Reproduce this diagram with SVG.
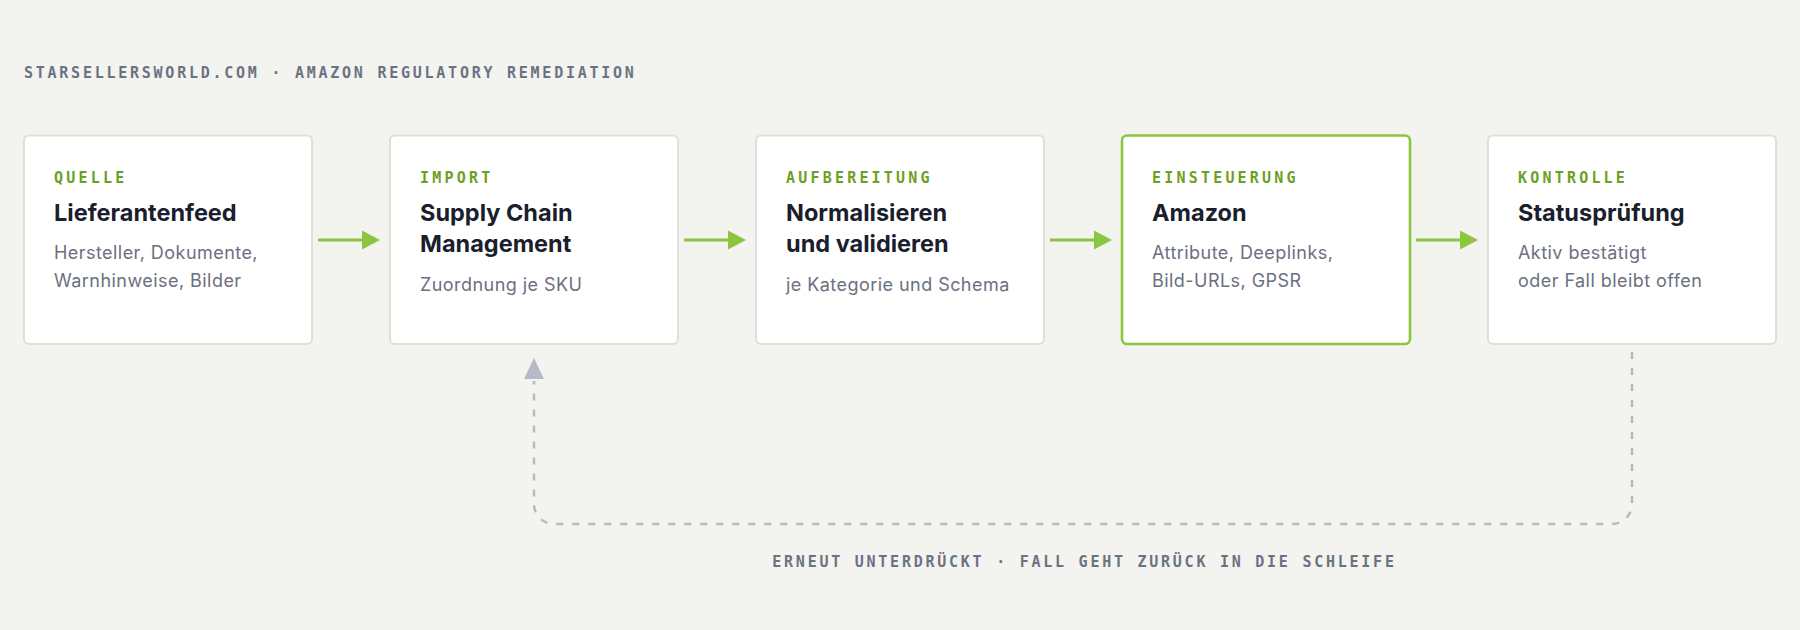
<svg xmlns="http://www.w3.org/2000/svg" width="1800" height="630" viewBox="0 0 1800 630">
  <style>
    .bg { fill: #f3f3ef; }
    .box { fill: #ffffff; stroke: #dfe0d9; stroke-width: 2; }
    .box.hl { stroke: #8cc63f; stroke-width: 2.6; }
    .kicker { font-family: "DejaVu Sans Mono", "Liberation Mono", monospace; font-weight: 700; font-size: 15px; letter-spacing: 3.2px; fill: #6d9f24; }
    .title { font-family: Inter, "Liberation Sans", sans-serif; font-weight: 700; font-size: 23.5px; letter-spacing: 0px; fill: #1b1e2d; }
    .sub { font-family: Inter, "Liberation Sans", sans-serif; font-weight: 400; font-size: 18px; letter-spacing: 0.45px; fill: #6b7080; }
    .caption { font-family: "DejaVu Sans Mono", "Liberation Mono", monospace; font-weight: 700; font-size: 15px; letter-spacing: 2.75px; fill: #6b7282; }
    .flow { stroke: #8cc63f; stroke-width: 3; fill: none; }
    .flowhead { fill: #8cc63f; }
    .loop { stroke: #b6bac6; stroke-width: 2.5; fill: none; stroke-dasharray: 7 9; }
    .loophead { fill: #b6bac6; }
  </style>
  <rect class="bg" x="0" y="0" width="1800" height="630"/>

  <text class="caption" x="24" y="78">STARSELLERSWORLD.COM · AMAZON REGULATORY REMEDIATION</text>

  <g id="connectors">
    <line class="flow" x1="318" y1="240" x2="364" y2="240"/>
    <polygon class="flowhead" points="380,240 362,230.5 362,249.5"/>
    <line class="flow" x1="684" y1="240" x2="730" y2="240"/>
    <polygon class="flowhead" points="746,240 728,230.5 728,249.5"/>
    <line class="flow" x1="1050" y1="240" x2="1096" y2="240"/>
    <polygon class="flowhead" points="1112,240 1094,230.5 1094,249.5"/>
    <line class="flow" x1="1416" y1="240" x2="1462" y2="240"/>
    <polygon class="flowhead" points="1478,240 1460,230.5 1460,249.5"/>
    <path class="loop" d="M1632 352 V504 A20 20 0 0 1 1612 524 H554 A20 20 0 0 1 534 504 V381"/>
    <polygon class="loophead" points="534,358 524,379 544,379"/>
    <text class="caption" x="1084.5" y="567" text-anchor="middle">ERNEUT UNTERDRÜCKT · FALL GEHT ZURÜCK IN DIE SCHLEIFE</text>
  </g>

  <g id="node-quelle">
    <rect class="box" x="24" y="135.5" width="288" height="208.5" rx="5"/>
    <text class="kicker" x="54" y="183">QUELLE</text>
    <text class="title" x="54" y="221">Lieferantenfeed</text>
    <text class="sub" x="54" y="259">Hersteller, Dokumente,</text>
    <text class="sub" x="54" y="287">Warnhinweise, Bilder</text>
  </g>

  <g id="node-import">
    <rect class="box" x="390" y="135.5" width="288" height="208.5" rx="5"/>
    <text class="kicker" x="420" y="183">IMPORT</text>
    <text class="title" x="420" y="221">Supply Chain</text>
    <text class="title" x="420" y="252">Management</text>
    <text class="sub" x="420" y="291">Zuordnung je SKU</text>
  </g>

  <g id="node-aufbereitung">
    <rect class="box" x="756" y="135.5" width="288" height="208.5" rx="5"/>
    <text class="kicker" x="786" y="183">AUFBEREITUNG</text>
    <text class="title" x="786" y="221">Normalisieren</text>
    <text class="title" x="786" y="252">und validieren</text>
    <text class="sub" x="786" y="291">je Kategorie und Schema</text>
  </g>

  <g id="node-einsteuerung">
    <rect class="box hl" x="1122" y="135.5" width="288" height="208.5" rx="5"/>
    <text class="kicker" x="1152" y="183">EINSTEUERUNG</text>
    <text class="title" x="1152" y="221">Amazon</text>
    <text class="sub" x="1152" y="259">Attribute, Deeplinks,</text>
    <text class="sub" x="1152" y="287">Bild-URLs, GPSR</text>
  </g>

  <g id="node-kontrolle">
    <rect class="box" x="1488" y="135.5" width="288" height="208.5" rx="5"/>
    <text class="kicker" x="1518" y="183">KONTROLLE</text>
    <text class="title" x="1518" y="221">Statusprüfung</text>
    <text class="sub" x="1518" y="259">Aktiv bestätigt</text>
    <text class="sub" x="1518" y="287">oder Fall bleibt offen</text>
  </g>
</svg>
